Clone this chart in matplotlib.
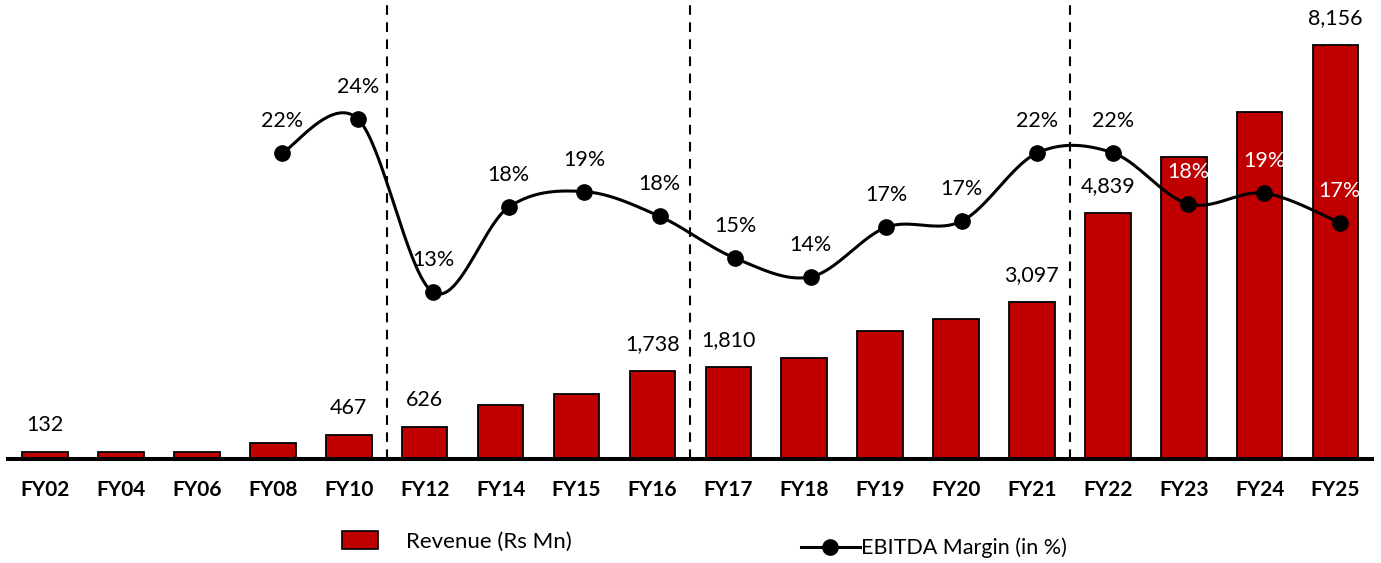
import numpy as np
import matplotlib.pyplot as plt
from matplotlib.patches import Patch
from matplotlib.lines import Line2D

plt.rcParams['font.family'] = ['Lato', 'DejaVu Sans']

# Revenue (Rs Mn) and EBITDA margin (%)
years = ['FY02', 'FY04', 'FY06', 'FY08', 'FY10', 'FY12', 'FY14', 'FY15', 'FY16',
         'FY17', 'FY18', 'FY19', 'FY20', 'FY21', 'FY22', 'FY23', 'FY24', 'FY25']
revenue = [132, 135, 135, 315, 467, 626, 1065, 1280, 1738,
           1810, 1990, 2520, 2760, 3097, 4839, 5950, 6840, 8156]
revenue_labelled = ['FY02', 'FY10', 'FY12', 'FY16', 'FY17', 'FY21', 'FY22', 'FY25']

margin_years = years[3:]
margin = [21.7, 23.9, 12.7, 18.2, 19.2, 17.6, 14.9, 13.7, 16.9, 17.3,
          21.7, 21.7, 18.4, 19.1, 17.2]
white_labels = ['FY23', 'FY24', 'FY25']

period_breaks = [4.5, 8.5, 13.5]

RED = '#C00000'
RECT = [8 / 1381, 104 / 563, 1364 / 1381, 459 / 563]


def smooth_curve(xs, ys, n=40):
    # Catmull-Rom style cubic Bezier through every point
    pts = np.column_stack([np.asarray(xs, float), np.asarray(ys, float)])
    out = []
    for i in range(len(pts) - 1):
        p0 = pts[i - 1] if i > 0 else pts[i]
        p1 = pts[i]
        p2 = pts[i + 1]
        p3 = pts[i + 2] if i + 2 < len(pts) else pts[i + 1]
        c1 = p1 + (p2 - p0) / 6
        c2 = p2 - (p3 - p1) / 6
        t = np.linspace(0, 1, n)[:, None]
        seg = ((1 - t) ** 3 * p1 + 3 * (1 - t) ** 2 * t * c1
               + 3 * (1 - t) * t ** 2 * c2 + t ** 3 * p2)
        out.append(seg if i == 0 else seg[1:])
    seg = np.vstack(out)
    return seg[:, 0], seg[:, 1]


fig = plt.figure(figsize=(13.81, 5.63), dpi=100)
ax = fig.add_axes(RECT)
x = np.arange(len(years))

ax.bar(x, revenue, width=0.6, color=RED, edgecolor='black', linewidth=1.3, zorder=2)
for xi, yr, val in zip(x, years, revenue):
    if yr in revenue_labelled:
        ax.annotate(f'{val:,}', (xi, val), xytext=(0, 27), textcoords='offset pixels',
                    ha='center', va='center', fontsize=15.5, color='black')

ax.set_xlim(-0.49, 17.48)
ax.set_ylim(0, 9042)
ax.set_yticks([])
ax.set_xticks(x)
ax.set_xticklabels(years, fontsize=15, fontweight='bold')
ax.tick_params(axis='x', length=0, pad=15)
for side in ['top', 'left', 'right']:
    ax.spines[side].set_visible(False)
ax.spines['bottom'].set_linewidth(2.9)
ax.spines['bottom'].set_zorder(4)

for b in period_breaks:
    ax.axvline(b, color='black', lw=1.5, ls=(0, (4.6, 3.6)), zorder=1)

# EBITDA margin on its own secondary axes
ax2 = fig.add_axes(RECT)
ax2.set_xlim(-0.63, 17.43)
ax2.set_ylim(1.95, 31.56)
ax2.axis('off')
mx = [years.index(y) for y in margin_years]
sx, sy = smooth_curve(mx, margin)
ax2.plot(sx, sy, color='black', lw=2.2, zorder=3)
ax2.plot(mx, margin, 'o', color='black', ms=11, zorder=4)
for xi, yr, val in zip(mx, margin_years, margin):
    col = 'white' if yr in white_labels else 'black'
    ax2.annotate(f'{val:.0f}%', (xi, val), xytext=(0, 32), textcoords='offset pixels',
                 ha='center', va='center', fontsize=15.5, color=col, zorder=5)

# legends below the axis
fig.legend(handles=[Patch(facecolor=RED, edgecolor='black', linewidth=1.2)],
           labels=['Revenue (Rs Mn)'], loc='center left',
           bbox_to_anchor=(322 / 1381, 1 - 541 / 563), frameon=False,
           fontsize=16, handlelength=1.6, handleheight=0.9, handletextpad=1.3)
fig.legend(handles=[Line2D([], [], color='black', lw=2.2, marker='o', ms=11)],
           labels=['EBITDA Margin (in %)'], loc='center left',
           bbox_to_anchor=(782 / 1381, 1 - 548 / 563), frameon=False,
           fontsize=15.5, handlelength=2.7, handletextpad=0.05)

fig.savefig('out.png', dpi=100)
